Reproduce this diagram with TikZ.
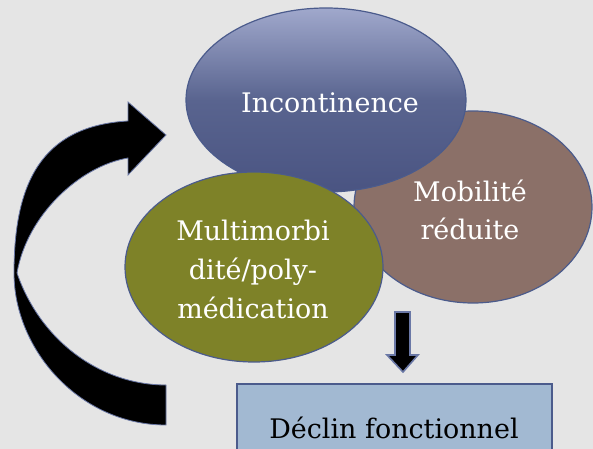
\documentclass[tikz,border=0pt]{standalone}
\usepackage{fontspec}
\setmainfont{DejaVu Serif}
\usetikzlibrary{shapes.geometric}
\definecolor{bg}{HTML}{E5E5E5}
\definecolor{edge}{HTML}{4B5B8C}
\definecolor{arrowedge}{HTML}{6A78A6}
\definecolor{bluetop}{HTML}{A0A8CC}
\definecolor{bluemid}{HTML}{59648F}
\definecolor{bluebot}{HTML}{4A5482}
\definecolor{greenc}{HTML}{7E8228}
\definecolor{brownc}{HTML}{8B7068}
\definecolor{boxc}{HTML}{A2B9D2}
\begin{document}
\begin{tikzpicture}[x=0.75pt,y=-0.75pt,
  venn/.style={ellipse, draw=edge, line width=0.9pt, inner sep=0pt},
  lbl/.style={anchor=base, text=white, font=\fontsize{20.2pt}{24pt}\selectfont, inner sep=0pt},
  blockarrow/.style={fill=black, draw=arrowedge, line join=miter}
  ]
\useasboundingbox (0,0) rectangle (593,449);
\clip (0,0) rectangle (593,449);
\fill[bg] (0,0) rectangle (593,449);
% Venn ellipses
\node[venn, fill=brownc, minimum width=178.5pt, minimum height=144pt] (mob) at (473,207) {};
\node[venn, top color=bluetop, bottom color=bluebot, middle color=bluemid, minimum width=210pt, minimum height=138pt] (inc) at (326,100) {};
\node[venn, fill=greenc, minimum width=193.5pt, minimum height=142.5pt] (mul) at (254,267) {};
% labels
\node[lbl] (tinc) at (330,113) {Incontinence};
\node[lbl] (tmob1) at (470,202) {Mobilité};
\node[lbl] (tmob2) at (470,240) {réduite};
\node[lbl] (tmul1) at (253,241) {Multimorbi};
\node[lbl] (tmul2) at (253,279) {dité/poly-};
\node[lbl] (tmul3) at (253,318) {médication};
% result box
\node[draw=edge, fill=boxc, line width=0.9pt, minimum width=236.25pt, minimum height=53.25pt, inner sep=0pt] (box) at (394.5,419.5) {};
\node[lbl, text=black] (tbox) at (394,438) {Déclin fonctionnel};
% big curved arrow
\filldraw[blockarrow, line width=0.6pt]
  (166,425) .. controls (80,425) and (14,350) .. (14,273)
  .. controls (14,185) and (40,126) .. (128,121)
  -- (128,102) -- (166,135) -- (128,175) -- (128,158)
  .. controls (80,166) and (27,215) .. (17,273)
  .. controls (40,340) and (100,385) .. (166,385) -- cycle;
% small down arrow
\filldraw[blockarrow, line width=1.2pt]
  (395,312) -- (410,312) -- (410,355) -- (418,355) -- (403,372) -- (387,355) -- (395,355) -- cycle;
\end{tikzpicture}
\end{document}
